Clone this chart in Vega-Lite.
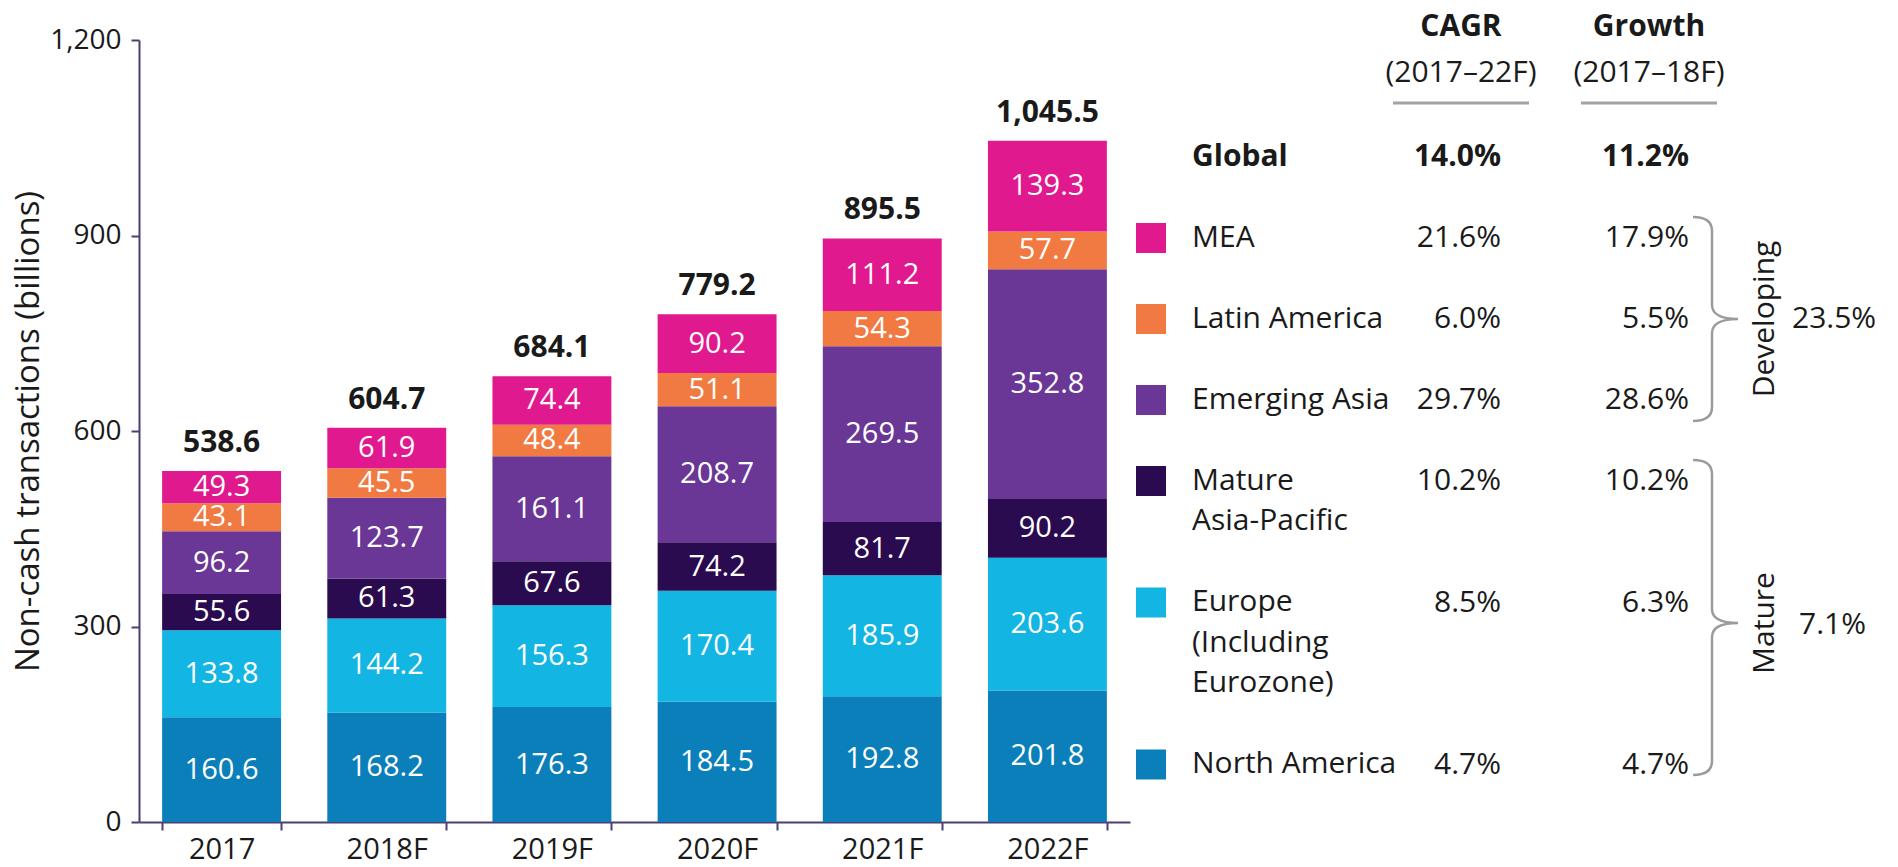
{
  "$schema": "https://vega.github.io/schema/vega-lite/v6.json",
  "width": 1759,
  "height": 782,
  "autosize": {"type": "none"},
  "padding": {"left": 139, "top": 40, "right": 0, "bottom": 45},
  "background": "white",
  "config": {"font": "Open Sans", "view": {"stroke": null}},
  "datasets": {
    "bars": [
      {"year": "2017", "region": "North America", "value": 160.6},
      {"year": "2017", "region": "Europe", "value": 133.8},
      {"year": "2017", "region": "Mature Asia-Pacific", "value": 55.6},
      {"year": "2017", "region": "Emerging Asia", "value": 96.2},
      {"year": "2017", "region": "Latin America", "value": 43.1},
      {"year": "2017", "region": "MEA", "value": 49.3},
      {"year": "2018F", "region": "North America", "value": 168.2},
      {"year": "2018F", "region": "Europe", "value": 144.2},
      {"year": "2018F", "region": "Mature Asia-Pacific", "value": 61.3},
      {"year": "2018F", "region": "Emerging Asia", "value": 123.7},
      {"year": "2018F", "region": "Latin America", "value": 45.5},
      {"year": "2018F", "region": "MEA", "value": 61.9},
      {"year": "2019F", "region": "North America", "value": 176.3},
      {"year": "2019F", "region": "Europe", "value": 156.3},
      {"year": "2019F", "region": "Mature Asia-Pacific", "value": 67.6},
      {"year": "2019F", "region": "Emerging Asia", "value": 161.1},
      {"year": "2019F", "region": "Latin America", "value": 48.4},
      {"year": "2019F", "region": "MEA", "value": 74.4},
      {"year": "2020F", "region": "North America", "value": 184.5},
      {"year": "2020F", "region": "Europe", "value": 170.4},
      {"year": "2020F", "region": "Mature Asia-Pacific", "value": 74.2},
      {"year": "2020F", "region": "Emerging Asia", "value": 208.7},
      {"year": "2020F", "region": "Latin America", "value": 51.1},
      {"year": "2020F", "region": "MEA", "value": 90.2},
      {"year": "2021F", "region": "North America", "value": 192.8},
      {"year": "2021F", "region": "Europe", "value": 185.9},
      {"year": "2021F", "region": "Mature Asia-Pacific", "value": 81.7},
      {"year": "2021F", "region": "Emerging Asia", "value": 269.5},
      {"year": "2021F", "region": "Latin America", "value": 54.3},
      {"year": "2021F", "region": "MEA", "value": 111.2},
      {"year": "2022F", "region": "North America", "value": 201.8},
      {"year": "2022F", "region": "Europe", "value": 203.6},
      {"year": "2022F", "region": "Mature Asia-Pacific", "value": 90.2},
      {"year": "2022F", "region": "Emerging Asia", "value": 352.8},
      {"year": "2022F", "region": "Latin America", "value": 57.7},
      {"year": "2022F", "region": "MEA", "value": 139.3}
    ],
    "totals": [
      {"year": "2017", "total": 538.6},
      {"year": "2018F", "total": 604.7},
      {"year": "2019F", "total": 684.1},
      {"year": "2020F", "total": 779.2},
      {"year": "2021F", "total": 895.5},
      {"year": "2022F", "total": 1045.5}
    ],
    "table": [
      {"region": "Global", "label": "Global", "cagr": "14.0%", "growth": "11.2%"},
      {"region": "MEA", "label": "MEA", "cagr": "21.6%", "growth": "17.9%"},
      {"region": "Latin America", "label": "Latin America", "cagr": "6.0%", "growth": "5.5%"},
      {"region": "Emerging Asia", "label": "Emerging Asia", "cagr": "29.7%", "growth": "28.6%"},
      {"region": "Mature Asia-Pacific", "label": "Mature\nAsia-Pacific", "cagr": "10.2%", "growth": "10.2%"},
      {"region": "Europe", "label": "Europe\n(Including\nEurozone)", "cagr": "8.5%", "growth": "6.3%"},
      {"region": "North America", "label": "North America", "cagr": "4.7%", "growth": "4.7%"}
    ],
    "headers": [
      {"column": "CAGR", "title": "CAGR", "period": "(2017–22F)"},
      {"column": "Growth", "title": "Growth", "period": "(2017–18F)"}
    ],
    "segments": [
      {"segment": "Developing", "anchor": "Latin America", "growth": "23.5%"},
      {"segment": "Mature", "anchor": "Europe", "growth": "7.1%"}
    ]
  },
  "layer": [
    {
      "layer": [
        {
          "data": {"name": "bars"},
          "transform": [{"window": [{"op": "row_number", "as": "stackOrder"}]}],
          "mark": {"type": "bar"},
          "encoding": {
            "x": {"field": "year", "type": "ordinal", "title": null,
              "scale": {"range": [0, 991], "paddingInner": 0.28, "paddingOuter": 0.14},
              "axis": {"labelAngle": 0, "tickBand": "extent", "tickSize": 8, "labelPadding": 5, "labelFontSize": 29, "labelColor": "#1a1a1a", "domainColor": "#4e3f73", "tickColor": "#4e3f73", "domainWidth": 2, "tickWidth": 2}},
            "y": {"field": "value", "type": "quantitative", "stack": "zero", "title": "Non-cash transactions (billions)",
              "scale": {"domain": [0, 1200], "nice": false},
              "axis": {"values": [0, 300, 600, 900, 1200], "format": ",d", "grid": false, "tickSize": 8, "labelPadding": 10, "labelFontSize": 28, "labelColor": "#1a1a1a", "domainColor": "#4e3f73", "tickColor": "#4e3f73", "domainWidth": 2, "tickWidth": 2, "titleFontSize": 33, "titleFontWeight": "normal", "titleColor": "#1a1a1a", "titlePadding": 4}},
            "color": {"field": "region", "type": "nominal", "legend": null,
              "scale": {"domain": ["North America", "Europe", "Mature Asia-Pacific", "Emerging Asia", "Latin America", "MEA"],
                        "range": ["#0b7fb9", "#13b5e2", "#2a0b4f", "#6a3796", "#f07a42", "#e0198f"]}},
            "order": {"field": "stackOrder", "type": "quantitative"}
          }
        },
        {
          "data": {"name": "bars"},
          "transform": [{"window": [{"op": "row_number", "as": "stackOrder"}]}],
          "mark": {"type": "text", "color": "white", "fontSize": 29, "baseline": "middle", "align": "center"},
          "encoding": {
            "x": {"field": "year", "type": "ordinal", "title": null,
              "axis": {"labelAngle": 0, "tickBand": "extent", "tickSize": 8, "labelPadding": 5, "labelFontSize": 29, "labelColor": "#1a1a1a", "domainColor": "#4e3f73", "tickColor": "#4e3f73", "domainWidth": 2, "tickWidth": 2}},
            "y": {"field": "value", "type": "quantitative", "stack": "zero", "bandPosition": 0.5, "title": "Non-cash transactions (billions)",
              "axis": {"values": [0, 300, 600, 900, 1200], "format": ",d", "grid": false, "tickSize": 8, "labelPadding": 10, "labelFontSize": 28, "labelColor": "#1a1a1a", "domainColor": "#4e3f73", "tickColor": "#4e3f73", "domainWidth": 2, "tickWidth": 2, "titleFontSize": 33, "titleFontWeight": "normal", "titleColor": "#1a1a1a", "titlePadding": 4}},
            "detail": {"field": "region", "type": "nominal"},
            "order": {"field": "stackOrder", "type": "quantitative"},
            "text": {"field": "value", "type": "quantitative", "format": ".1f"}
          }
        },
        {
          "data": {"name": "totals"},
          "mark": {"type": "text", "fontSize": 30, "fontWeight": "bold", "baseline": "alphabetic", "dy": -19, "color": "#1a1a1a"},
          "encoding": {
            "x": {"field": "year", "type": "ordinal", "title": null,
              "axis": {"labelAngle": 0, "tickBand": "extent", "tickSize": 8, "labelPadding": 5, "labelFontSize": 29, "labelColor": "#1a1a1a", "domainColor": "#4e3f73", "tickColor": "#4e3f73", "domainWidth": 2, "tickWidth": 2}},
            "y": {"field": "total", "type": "quantitative", "title": "Non-cash transactions (billions)",
              "axis": {"values": [0, 300, 600, 900, 1200], "format": ",d", "grid": false, "tickSize": 8, "labelPadding": 10, "labelFontSize": 28, "labelColor": "#1a1a1a", "domainColor": "#4e3f73", "tickColor": "#4e3f73", "domainWidth": 2, "tickWidth": 2, "titleFontSize": 33, "titleFontWeight": "normal", "titleColor": "#1a1a1a", "titlePadding": 4}},
            "text": {"field": "total", "type": "quantitative", "format": ",.1f"}
          }
        }
      ]
    },
    {
      "layer": [
        {
          "data": {"name": "table"},
          "transform": [{"filter": "datum.region !== 'Global'"}],
          "mark": {"type": "point", "shape": "square", "filled": true, "size": 900, "opacity": 1, "xOffset": -162},
          "encoding": {
            "x": {"datum": "region", "type": "nominal", "scale": {"type": "point", "domain": ["region", "CAGR", "Growth"], "range": [1174, 1550], "padding": 0}, "axis": null},
            "y": {"field": "region", "type": "nominal", "scale": {"type": "point", "domain": ["hdr1", "hdr2", "hdr3", "Global", "s1", "MEA", "s2", "Latin America", "s3", "Emerging Asia", "s4", "Mature Asia-Pacific", "s5", "s6", "Europe", "s7", "s8", "s9", "North America"], "range": [-4.5, 724.5], "padding": 0}, "axis": null},
            "color": {"field": "region", "type": "nominal", "legend": null}
          }
        },
        {
          "data": {"name": "table"},
          "transform": [{"filter": "datum.region !== 'Global'"}],
          "mark": {"type": "text", "fontSize": 30, "align": "left", "baseline": "line-top", "lineBreak": "\n", "lineHeight": 40.5, "xOffset": -121, "yOffset": -20.25, "color": "#1a1a1a"},
          "encoding": {
            "x": {"datum": "region", "type": "nominal", "axis": null},
            "y": {"field": "region", "type": "nominal", "axis": null},
            "text": {"field": "label"}
          }
        },
        {
          "data": {"name": "table"},
          "transform": [{"filter": "datum.region === 'Global'"}],
          "mark": {"type": "text", "fontSize": 30, "fontWeight": "bold", "align": "left", "baseline": "middle", "xOffset": -121, "color": "#1a1a1a"},
          "encoding": {
            "x": {"datum": "region", "type": "nominal", "axis": null},
            "y": {"field": "region", "type": "nominal", "axis": null},
            "text": {"field": "label"}
          }
        },
        {
          "data": {"name": "table"},
          "transform": [{"filter": "datum.region !== 'Global'"}],
          "mark": {"type": "text", "fontSize": 30, "align": "right", "baseline": "middle", "color": "#1a1a1a"},
          "encoding": {
            "x": {"datum": "CAGR", "type": "nominal", "axis": null},
            "y": {"field": "region", "type": "nominal", "axis": null},
            "text": {"field": "cagr"}
          }
        },
        {
          "data": {"name": "table"},
          "transform": [{"filter": "datum.region === 'Global'"}],
          "mark": {"type": "text", "fontSize": 30, "fontWeight": "bold", "align": "right", "baseline": "middle", "color": "#1a1a1a"},
          "encoding": {
            "x": {"datum": "CAGR", "type": "nominal", "axis": null},
            "y": {"field": "region", "type": "nominal", "axis": null},
            "text": {"field": "cagr"}
          }
        },
        {
          "data": {"name": "table"},
          "transform": [{"filter": "datum.region !== 'Global'"}],
          "mark": {"type": "text", "fontSize": 30, "align": "right", "baseline": "middle", "color": "#1a1a1a"},
          "encoding": {
            "x": {"datum": "Growth", "type": "nominal", "axis": null},
            "y": {"field": "region", "type": "nominal", "axis": null},
            "text": {"field": "growth"}
          }
        },
        {
          "data": {"name": "table"},
          "transform": [{"filter": "datum.region === 'Global'"}],
          "mark": {"type": "text", "fontSize": 30, "fontWeight": "bold", "align": "right", "baseline": "middle", "color": "#1a1a1a"},
          "encoding": {
            "x": {"datum": "Growth", "type": "nominal", "axis": null},
            "y": {"field": "region", "type": "nominal", "axis": null},
            "text": {"field": "growth"}
          }
        },
        {
          "data": {"name": "headers"},
          "mark": {"type": "text", "fontSize": 30, "fontWeight": "bold", "align": "center", "baseline": "middle", "xOffset": -40, "yOffset": -8.5, "color": "#1a1a1a"},
          "encoding": {
            "x": {"field": "column", "type": "nominal", "axis": null},
            "y": {"datum": "hdr1", "type": "nominal", "axis": null},
            "text": {"field": "title"}
          }
        },
        {
          "data": {"name": "headers"},
          "mark": {"type": "text", "fontSize": 30, "align": "center", "baseline": "middle", "xOffset": -40, "yOffset": -3, "color": "#1a1a1a"},
          "encoding": {
            "x": {"field": "column", "type": "nominal", "axis": null},
            "y": {"datum": "hdr2", "type": "nominal", "axis": null},
            "text": {"field": "period"}
          }
        },
        {
          "data": {"name": "headers"},
          "mark": {"type": "rule", "color": "#a3a3a3", "strokeWidth": 3, "xOffset": -108, "x2Offset": 28, "yOffset": -13.5},
          "encoding": {
            "x": {"field": "column", "type": "nominal", "axis": null},
            "x2": {"field": "column"},
            "y": {"datum": "hdr3", "type": "nominal", "axis": null}
          }
        },
        {
          "data": {"name": "segments"},
          "transform": [{"filter": "datum.segment === 'Developing'"}],
          "mark": {"type": "point", "filled": false, "opacity": 1, "color": "#9b9b9b", "strokeWidth": 2.5, "size": 41616, "xOffset": 23,
            "shape": "M -0.186 -1 C -0.07 -1 0 -0.96 0 -0.863 L 0 -0.137 C 0 -0.05 0.09 0 0.255 0 C 0.09 0 0 0.05 0 0.137 L 0 0.863 C 0 0.96 -0.07 1 -0.186 1"},
          "encoding": {
            "x": {"datum": "Growth", "type": "nominal", "axis": null},
            "y": {"field": "anchor", "type": "nominal", "axis": null}
          }
        },
        {
          "data": {"name": "segments"},
          "transform": [{"filter": "datum.segment === 'Mature'"}],
          "mark": {"type": "point", "filled": false, "opacity": 1, "color": "#9b9b9b", "strokeWidth": 2.5, "size": 99225, "xOffset": 23,
            "shape": "M -0.12 -0.905 C -0.04 -0.905 0 -0.875 0 -0.816 L 0 0.041 C 0 0.1 0.06 0.13 0.165 0.13 C 0.06 0.13 0 0.16 0 0.219 L 0 1.006 C 0 1.065 -0.04 1.095 -0.12 1.095"},
          "encoding": {
            "x": {"datum": "Growth", "type": "nominal", "axis": null},
            "y": {"field": "anchor", "type": "nominal", "axis": null}
          }
        },
        {
          "data": {"name": "segments"},
          "transform": [{"filter": "datum.segment === 'Developing'"}],
          "mark": {"type": "text", "fontSize": 30, "angle": 270, "align": "center", "baseline": "middle", "xOffset": 76, "color": "#1a1a1a"},
          "encoding": {
            "x": {"datum": "Growth", "type": "nominal", "axis": null},
            "y": {"field": "anchor", "type": "nominal", "axis": null},
            "text": {"field": "segment"}
          }
        },
        {
          "data": {"name": "segments"},
          "transform": [{"filter": "datum.segment === 'Mature'"}],
          "mark": {"type": "text", "fontSize": 30, "angle": 270, "align": "center", "baseline": "middle", "xOffset": 76, "yOffset": 20.5, "color": "#1a1a1a"},
          "encoding": {
            "x": {"datum": "Growth", "type": "nominal", "axis": null},
            "y": {"field": "anchor", "type": "nominal", "axis": null},
            "text": {"field": "segment"}
          }
        },
        {
          "data": {"name": "segments"},
          "transform": [{"filter": "datum.segment === 'Developing'"}],
          "mark": {"type": "text", "fontSize": 30, "align": "left", "baseline": "middle", "xOffset": 103, "color": "#1a1a1a"},
          "encoding": {
            "x": {"datum": "Growth", "type": "nominal", "axis": null},
            "y": {"field": "anchor", "type": "nominal", "axis": null},
            "text": {"field": "growth"}
          }
        },
        {
          "data": {"name": "segments"},
          "transform": [{"filter": "datum.segment === 'Mature'"}],
          "mark": {"type": "text", "fontSize": 30, "align": "left", "baseline": "middle", "xOffset": 110, "yOffset": 22.5, "color": "#1a1a1a"},
          "encoding": {
            "x": {"datum": "Growth", "type": "nominal", "axis": null},
            "y": {"field": "anchor", "type": "nominal", "axis": null},
            "text": {"field": "growth"}
          }
        }
      ]
    }
  ],
  "resolve": {"scale": {"x": "independent", "y": "independent"}}
}
